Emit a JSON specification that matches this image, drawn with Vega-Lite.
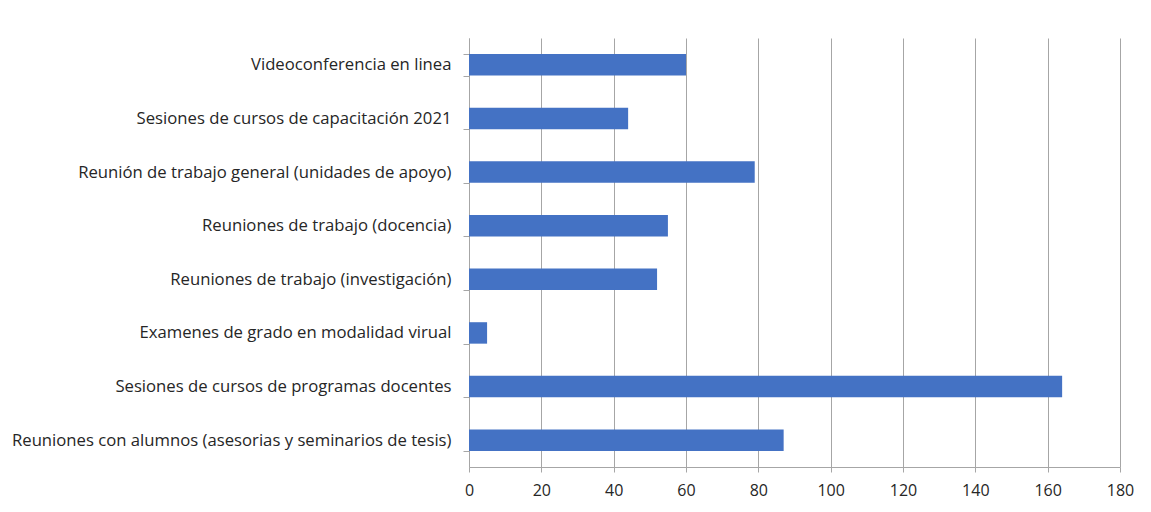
{
  "$schema": "https://vega.github.io/schema/vega-lite/v6.json",
  "autosize": {"type": "none"},
  "padding": {"left": 469, "top": 38, "right": 31, "bottom": 45},
  "width": 651,
  "height": 429,
  "background": "white",
  "data": {"values": [
    {"cat": "Videoconferencia en linea", "v": 60},
    {"cat": "Sesiones de cursos de capacitación 2021", "v": 44},
    {"cat": "Reunión de trabajo general (unidades de apoyo)", "v": 79},
    {"cat": "Reuniones de trabajo (docencia)", "v": 55},
    {"cat": "Reuniones de trabajo (investigación)", "v": 52},
    {"cat": "Examenes de grado en modalidad virual", "v": 5},
    {"cat": "Sesiones de cursos de programas docentes", "v": 164},
    {"cat": "Reuniones con alumnos (asesorias y seminarios de tesis)", "v": 87}
  ]},
  "mark": {"type": "bar", "color": "#4472C4"},
  "encoding": {
    "y": {"field": "cat", "type": "nominal", "sort": null,
      "scale": {"paddingInner": 0.6, "paddingOuter": 0.3},
      "axis": {"title": null, "grid": false, "tickBand": "extent", "domainColor": "#a6a6a6", "tickColor": "#a6a6a6", "tickSize": 6, "labelPadding": 12, "labelFont": "Open Sans", "labelFontSize": 16.7, "labelColor": "#262626", "labelLimit": 500}},
    "x": {"field": "v", "type": "quantitative",
      "scale": {"domain": [0, 180], "nice": false},
      "axis": {"title": null, "values": [0,20,40,60,80,100,120,140,160,180], "grid": true, "gridColor": "#a6a6a6", "domainColor": "#a6a6a6", "tickColor": "#a6a6a6", "tickSize": 5, "labelPadding": 10, "labelFont": "Open Sans", "labelFontSize": 16, "labelColor": "#262626", "labelFlush": false}}
  },
  "config": {"view": {"stroke": null}}
}
